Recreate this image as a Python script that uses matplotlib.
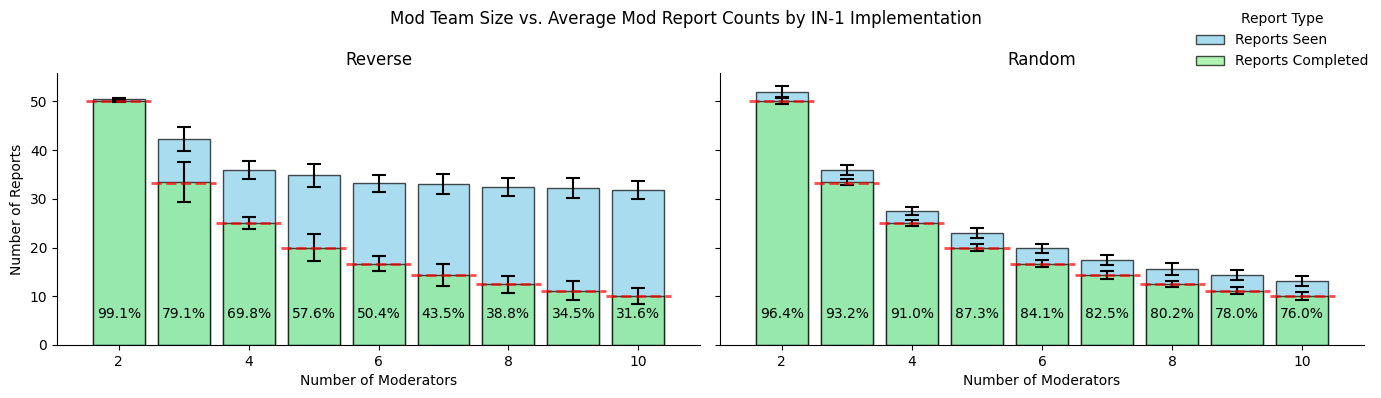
import matplotlib.pyplot as plt
from matplotlib.patches import Patch

moderators = [2, 3, 4, 5, 6, 7, 8, 9, 10]

reverse_seen = [50.5, 42.3, 35.9, 34.8, 33.2, 33.0, 32.4, 32.2, 31.8]
reverse_seen_err = [0.2, 2.5, 1.9, 2.4, 1.75, 2.05, 1.8, 2.0, 1.8]
reverse_completed = [50.0, 33.4, 25.0, 20.0, 16.7, 14.35, 12.5, 11.1, 10.0]
reverse_completed_err = [0.1, 4.15, 1.2, 2.7, 1.6, 2.3, 1.75, 1.95, 1.6]
reverse_pct = [99.1, 79.1, 69.8, 57.6, 50.4, 43.5, 38.8, 34.5, 31.6]

random_seen = [52.0, 35.9, 27.5, 22.9, 19.8, 17.4, 15.6, 14.3, 13.2]
random_seen_err = [1.15, 1.0, 0.9, 1.05, 1.0, 1.0, 1.15, 1.05, 1.0]
random_completed = [50.1, 33.4, 25.0, 20.0, 16.7, 14.35, 12.5, 11.15, 10.0]
random_completed_err = [0.6, 0.6, 0.65, 0.8, 0.75, 0.85, 0.7, 0.75, 0.8]
random_pct = [96.4, 93.2, 91.0, 87.3, 84.1, 82.5, 80.2, 78.0, 76.0]

SEEN_COLOR = "skyblue"
DONE_COLOR = "lightgreen"


def draw_panel(ax, title, seen, seen_err, done, done_err, pct):
    ax.bar(moderators, seen, width=0.8, color=SEEN_COLOR, alpha=0.7,
           edgecolor="black", linewidth=1)
    ax.errorbar(moderators, seen, yerr=seen_err, fmt="none", ecolor="black",
                capsize=5, elinewidth=1.5, capthick=1.5)
    ax.bar(moderators, done, width=0.8, color=DONE_COLOR, alpha=0.7,
           edgecolor="black", linewidth=1)
    ax.errorbar(moderators, done, yerr=done_err, fmt="none", ecolor="black",
                capsize=5, elinewidth=1.5, capthick=1.5)
    for n, p in zip(moderators, pct):
        ax.hlines(100 / n, n - 0.5, n + 0.5, colors="red", linestyles="--",
                  linewidth=2, alpha=0.7)
        ax.text(n, 5, f"{p:.1f}%", ha="center", va="bottom", fontsize=10)
    ax.set_title(title, fontsize=12)
    ax.set_xlabel("Number of Moderators")
    ax.spines["top"].set_visible(False)
    ax.spines["right"].set_visible(False)


fig = plt.figure(figsize=(13.81, 3.98), dpi=100)
ax1 = fig.add_axes([0.0413, 0.1332, 0.4656, 0.6834])
ax2 = fig.add_axes([0.5214, 0.1332, 0.4663, 0.6834], sharey=ax1)

draw_panel(ax1, "Reverse", reverse_seen, reverse_seen_err,
           reverse_completed, reverse_completed_err, reverse_pct)
draw_panel(ax2, "Random", random_seen, random_seen_err,
           random_completed, random_completed_err, random_pct)
ax1.set_ylabel("Number of Reports")
ax1.set_xticks([2, 4, 6, 8, 10])
ax2.set_xticks([2, 4, 6, 8, 10])
plt.setp(ax2.get_yticklabels(), visible=False)

fig.suptitle("Mod Team Size vs. Average Mod Report Counts by IN-1 Implementation",
             fontsize=12, x=0.497, y=0.975)

handles = [
    Patch(facecolor=SEEN_COLOR, alpha=0.7, edgecolor="black", label="Reports Seen"),
    Patch(facecolor=DONE_COLOR, alpha=0.7, edgecolor="black", label="Reports Completed"),
]
fig.legend(handles=handles, title="Report Type", loc="upper right",
           bbox_to_anchor=(1.0, 1.0), frameon=False)

fig.savefig("out.png", dpi=100)
